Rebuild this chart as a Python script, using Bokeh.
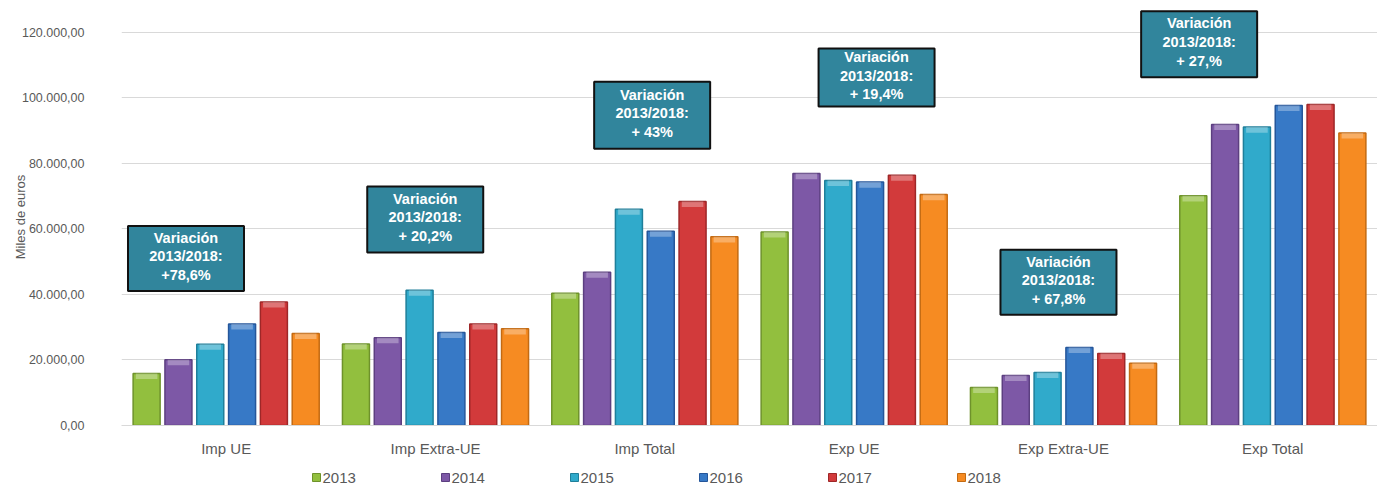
from bokeh.plotting import figure
from bokeh.layouts import column
from bokeh.models import (ColumnDataSource, FactorRange, Label, FixedTicker,
                          CustomJSTickFormatter, Range1d)
from bokeh.transform import dodge
from bokeh.embed import file_html
from bokeh.resources import INLINE

# ---------------- data ----------------
categories = ["Imp UE", "Imp Extra-UE", "Imp Total", "Exp UE", "Exp Extra-UE", "Exp Total"]
years = ["2013", "2014", "2015", "2016", "2017", "2018"]
v2013 = [15900, 24900, 40400, 59100, 11600, 70100]
v2014 = [20100, 26800, 46800, 76900, 15300, 91900]
v2015 = [24800, 41300, 66000, 74800, 16200, 91100]
v2016 = [31000, 28400, 59300, 74300, 23800, 97700]
v2017 = [37700, 31000, 68400, 76400, 22000, 98000]
v2018 = [28100, 29500, 57600, 70500, 19000, 89300]
y_ticks = [0, 20000, 40000, 60000, 80000, 100000, 120000]
notes = ["Variación\n2013/2018:\n+78,6%",
         "Variación\n2013/2018:\n+ 20,2%",
         "Variación\n2013/2018:\n+ 43%",
         "Variación\n2013/2018:\n+ 19,4%",
         "Variación\n2013/2018:\n+ 67,8%",
         "Variación\n2013/2018:\n+ 27,%"]

# ---------------- styles / layout ----------------
fills = ["#92BF3E", "#7D58A6", "#30AACB", "#3779C6", "#D23A3B", "#F68B22"]
edges = ["#6E922B", "#5C3F80", "#1F7F9A", "#25569A", "#9E2728", "#C36A12"]
note_x = [0.308, 1.451, 2.535, 3.607, 4.476, 5.148]
note_y = [51000, 62900, 94700, 106200, 43700, 116400]
note_h = [65, 66, 67, 58, 65, 66]
pitch = 0.152
bar_w = 0.129
bevel = 1700
W = 1377
LEFT = 121

series = [v2013, v2014, v2015, v2016, v2017, v2018]
cols = dict(cat=categories)
for yr, vals in zip(years, series):
    cols["y" + yr] = vals
    cols["b" + yr] = [v - bevel for v in vals]
src = ColumnDataSource(cols)

p = figure(x_range=FactorRange(factors=categories, range_padding=0),
           y_range=Range1d(0, 127300), width=W, height=460,
           output_backend="svg", toolbar_location=None,
           min_border_left=LEFT, min_border_right=0, min_border_top=8, min_border_bottom=35)
p.outline_line_color = None

for j, yr in enumerate(years):
    off = (j - 2.5) * pitch
    p.vbar(x=dodge("cat", off, range=p.x_range), top="y" + yr, width=bar_w, source=src,
           fill_color=fills[j], line_color=edges[j], line_width=1.5)
    p.vbar(x=dodge("cat", off, range=p.x_range), top="y" + yr, bottom="b" + yr,
           width=bar_w * 0.8, source=src, fill_color="white", fill_alpha=0.3, line_color=None)

# annotation boxes
nsrc = ColumnDataSource(dict(x=note_x, y=note_y, h=note_h))
p.rect(x="x", y="y", width=116, height="h", width_units="screen", height_units="screen",
       source=nsrc, fill_color="#31859C", line_color="#111111", line_width=2)
for i in range(len(notes)):
    p.add_layout(Label(x=note_x[i], y=note_y[i], text=notes[i], text_align="center",
                       text_baseline="middle", text_color="white", text_font_style="bold",
                       text_font="Liberation Sans", text_font_size="14.5px",
                       text_line_height=1.17, y_offset=2))

# axes
p.yaxis.ticker = FixedTicker(ticks=y_ticks)
p.yaxis.formatter = CustomJSTickFormatter(code="""
    const s = Math.round(tick).toString().replace(/\\B(?=(\\d{3})+(?!\\d))/g, '.');
    return s + ',00';
""")
p.yaxis.axis_line_color = None
p.yaxis.major_tick_line_color = None
p.yaxis.minor_tick_line_color = None
p.yaxis.major_label_standoff = 31
p.yaxis.major_label_text_font = "Liberation Sans"
p.yaxis.major_label_text_font_size = "12.5px"
p.yaxis.major_label_text_color = "#595959"
p.yaxis.axis_label = "Miles de euros"
p.yaxis.axis_label_text_font = "Liberation Sans"
p.yaxis.axis_label_text_font_size = "13px"
p.yaxis.axis_label_text_font_style = "normal"
p.yaxis.axis_label_text_color = "#595959"
p.yaxis.axis_label_standoff = -9

p.xaxis.axis_line_color = "#D9D9D9"
p.xaxis.major_tick_line_color = None
p.xaxis.minor_tick_line_color = None
p.xaxis.major_label_standoff = 8
p.xaxis.major_label_text_font = "Liberation Sans"
p.xaxis.major_label_text_font_size = "15px"
p.xaxis.major_label_text_color = "#595959"

p.xgrid.grid_line_color = None
p.ygrid.grid_line_color = "#D9D9D9"
p.ygrid.ticker = FixedTicker(ticks=y_ticks)

# legend strip (separate figure below the chart; its x axis is in page pixels)
leg_x0 = 316
leg_step = 129
lg = figure(width=W, height=25, x_range=Range1d(LEFT, W), y_range=Range1d(0, 25),
            output_backend="svg", toolbar_location=None,
            min_border_left=LEFT, min_border_right=0, min_border_top=0, min_border_bottom=0)
lg.axis.visible = False
lg.grid.visible = False
lg.outline_line_color = None
lsrc = ColumnDataSource(dict(x=[leg_x0 + k * leg_step for k in range(len(years))],
                             tx=[leg_x0 + 6 + k * leg_step for k in range(len(years))],
                             y=[8] * len(years), label=years, fill=fills, edge=edges))
lg.scatter(x="x", y="y", marker="square", size=8, source=lsrc,
           fill_color="fill", line_color="edge", line_width=1)
lg.text(x="tx", y="y", text="label", source=lsrc, text_baseline="middle",
        text_align="left", text_font_size="15px", text_color="#595959",
        text_font={"value": "Liberation Sans"})

layout = column(p, lg, spacing=0)
open("out.html", "w").write(file_html(layout, INLINE))
